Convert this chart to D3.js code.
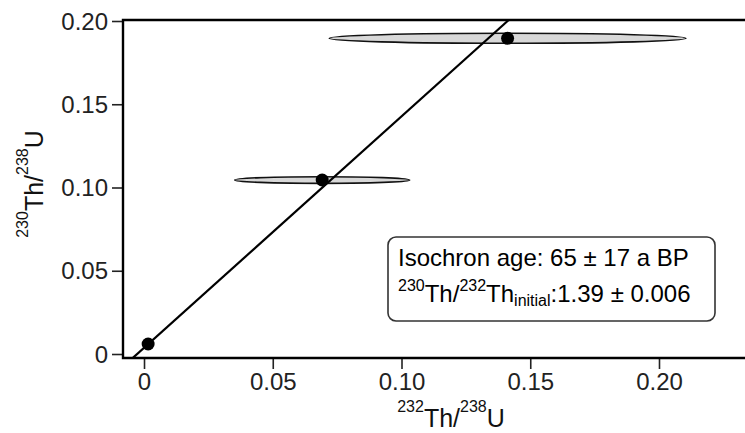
<!DOCTYPE html>
<html><head><meta charset="utf-8">
<script src="https://cdn.jsdelivr.net/npm/d3@7"></script>
<style>
html,body{margin:0;padding:0;background:#fff;}
svg{display:block;font-family:"Liberation Sans",Arial,sans-serif;}
</style></head>
<body>
<svg id="chart" width="745" height="433"></svg>
<script>
// data
const thU232 = [0.0016, 0.0692, 0.1412];   // 232Th/238U
const thU230 = [0.0060, 0.1045, 0.1896];   // 230Th/238U
const errX = [0.0010, 0.0340, 0.0693];     // ellipse half-widths
const errY = [0.0005, 0.0020, 0.0030];     // ellipse half-heights
const isoSlope = 1.39;
const isoIntercept = 0.0037;
const xTicks = [0, 0.05, 0.10, 0.15, 0.20];
const yTicks = [0, 0.05, 0.10, 0.15, 0.20];
const tickLabels = ["0", "0.05", "0.10", "0.15", "0.20"];

const svg = d3.select("#chart");
const L = 123, R = 745, T = 20, B = 358;
const x = d3.scaleLinear().domain([-0.00816, 0.2334]).range([L, R]);
const y = d3.scaleLinear().domain([-0.0024, 0.2006]).range([B, T]);

svg.append("defs").append("clipPath").attr("id","clip")
  .append("rect").attr("x",L).attr("y",T).attr("width",R-L).attr("height",B-T);

const plot = svg.append("g").attr("clip-path","url(#clip)");

// error ellipses
plot.selectAll("ellipse").data(thU232).join("ellipse")
  .attr("cx",(d)=>x(d))
  .attr("cy",(d,i)=>y(thU230[i]))
  .attr("rx",(d,i)=>x(errX[i])-x(0))
  .attr("ry",(d,i)=>y(0)-y(errY[i]))
  .attr("fill","#d8d8d8").attr("stroke","#111").attr("stroke-width",1.6);

// isochron line
const xs = [x.domain()[0], (y.domain()[1]+0.002-isoIntercept)/isoSlope];
plot.append("line")
  .attr("x1",x(xs[0])).attr("y1",y(isoIntercept+isoSlope*xs[0]))
  .attr("x2",x(xs[1])).attr("y2",y(isoIntercept+isoSlope*xs[1]))
  .attr("stroke","#000").attr("stroke-width",2.2);

// points
plot.selectAll("circle").data(thU232).join("circle")
  .attr("cx",(d)=>x(d))
  .attr("cy",(d,i)=>y(thU230[i]))
  .attr("r",6.5).attr("fill","#000");

// axes
const xAxis = d3.axisBottom(x).tickValues(xTicks).tickFormat((d,i)=>tickLabels[i]).tickSize(11).tickSizeOuter(0).tickPadding(4);
const yAxis = d3.axisLeft(y).tickValues(yTicks).tickFormat((d,i)=>tickLabels[i]).tickSize(11).tickSizeOuter(0).tickPadding(4);

const gx = svg.append("g").attr("transform",`translate(0,${B})`).call(xAxis);
const gy = svg.append("g").attr("transform",`translate(${L},0)`).call(yAxis);
[gx,gy].forEach(g=>{
  g.select(".domain").remove();
  g.selectAll(".tick line").attr("stroke","#222").attr("stroke-width",1.6);
  g.selectAll(".tick text").attr("fill","#222").style("font-size","24px").style("font-family","'Liberation Sans',Arial,sans-serif");
});
gy.selectAll(".tick text").attr("dy","0.34em");
gx.selectAll(".tick text").attr("dy","0.72em");

// frame (left, bottom, top)
svg.append("path")
  .attr("d",`M${R},${T}H${L}V${B}H${R}`)
  .attr("fill","none").attr("stroke","#000").attr("stroke-width",2.4);

// axis titles
const xt = svg.append("text").attr("x",451).attr("y",427).attr("text-anchor","middle").attr("fill","#111").style("font-size","25px");
xt.append("tspan").text("232").style("font-size","16px").attr("dy",-15);
xt.append("tspan").text("Th/").attr("dy",15);
xt.append("tspan").text("238").style("font-size","16px").attr("dy",-15);
xt.append("tspan").text("U").attr("dy",15);

const yt = svg.append("text").attr("transform","translate(43,184) rotate(-90)").attr("text-anchor","middle").attr("fill","#111").style("font-size","25px");
yt.append("tspan").text("230").style("font-size","16px").attr("dy",-15);
yt.append("tspan").text("Th/").attr("dy",15);
yt.append("tspan").text("238").style("font-size","16px").attr("dy",-15);
yt.append("tspan").text("U").attr("dy",15);

// annotation box
svg.append("rect").attr("x",388).attr("y",237).attr("width",327).attr("height",84).attr("rx",8)
  .attr("fill","#fff").attr("stroke","#333").attr("stroke-width",1.6);
svg.append("text").attr("x",398).attr("y",266).attr("fill","#000").style("font-size","24px")
  .text("Isochron age: 65 ± 17 a BP");
const t2 = svg.append("text").attr("x",398).attr("y",302).attr("fill","#000").style("font-size","24px");
t2.append("tspan").text("230").style("font-size","16px").attr("dy",-11);
t2.append("tspan").text("Th/").attr("dy",11);
t2.append("tspan").text("232").style("font-size","16px").attr("dy",-11);
t2.append("tspan").text("Th").attr("dy",11);
t2.append("tspan").text("initial").style("font-size","16px").attr("dy",4);
t2.append("tspan").text(":1.39 ± 0.006").attr("dy",-4);
</script>
</body></html>
